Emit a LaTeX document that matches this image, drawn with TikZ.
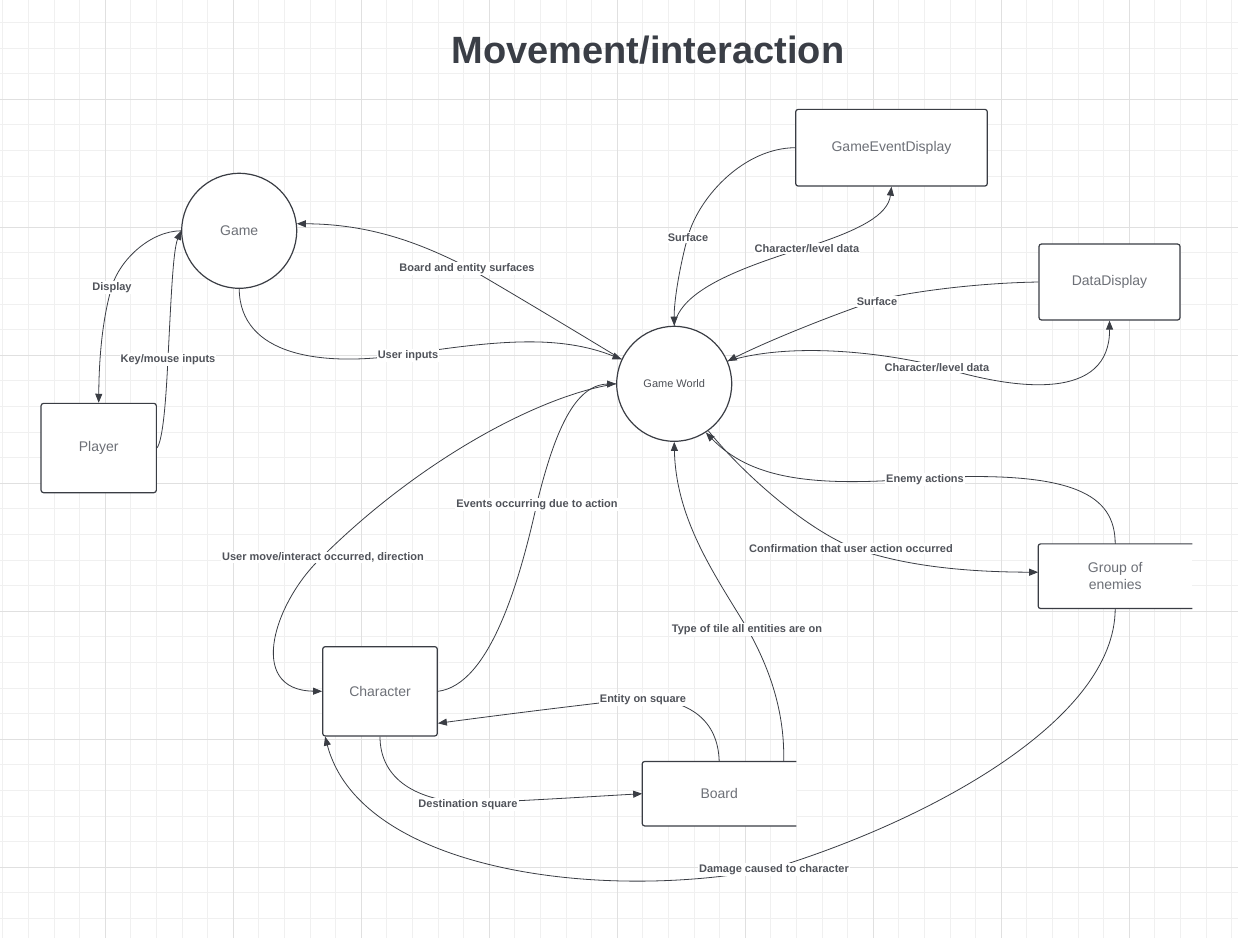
\documentclass[tikz,border=0pt]{standalone}
\usepackage{fontspec}
\setmainfont{Liberation Sans}
\usetikzlibrary{arrows.meta,calc}
\definecolor{linec}{HTML}{3A3D44}
\definecolor{nodetext}{HTML}{6D7077}
\definecolor{gwtext}{HTML}{4E5157}
\definecolor{lbltext}{HTML}{50535A}
\definecolor{titlec}{HTML}{3A3E46}
\definecolor{gridminor}{HTML}{F0F0F0}
\definecolor{gridmajor}{HTML}{E0E0E0}
\tikzset{
  gminor/.style={draw=gridminor, line width=0.9pt},
  gmajor/.style={draw=gridmajor, line width=1pt},
  boxline/.style={draw=linec, line width=1.2pt},
  box/.style={boxline, rounded corners=2.5pt, fill=white, inner sep=0pt, align=center,
    font=\fontsize{14}{17}\selectfont, text=nodetext},
  openbox/.style={fill=white, inner sep=0pt, align=center,
    font=\fontsize{14}{17}\selectfont, text=nodetext},
  circ/.style={circle, boxline, fill=white, minimum size=115pt, inner sep=0pt,
    font=\fontsize{14}{17}\selectfont, text=nodetext},
  lbl/.style={fill=white, inner sep=1pt, yshift=-1.5pt, text=lbltext, font=\bfseries\fontsize{11}{13}\selectfont},
  arr/.style={draw=linec, line width=0.8pt, -{Triangle[length=9pt,width=7pt]}},
}
\begin{document}
\begin{tikzpicture}[x=1pt,y=-1pt]
\useasboundingbox (0,0) rectangle (1238,938);
\fill[white] (0,0) rectangle (1238,938);
% grid
\foreach \i in {0,...,48} \draw[gminor] ({2.9+25.6*\i},0) -- ({2.9+25.6*\i},938);
\foreach \j in {0,...,35} \draw[gminor] (0,{22.5+25.6*\j}) -- (1238,{22.5+25.6*\j});
\foreach \i in {0,...,8} \draw[gmajor] ({105.3+128*\i},0) -- ({105.3+128*\i},938);
\foreach \j in {0,...,6} \draw[gmajor] (0,{99.3+128*\j}) -- (1238,{99.3+128*\j});

% title
\node[font=\bfseries\fontsize{38}{44}\selectfont, text=titlec] (title) at (648,50) {Movement/interaction};

% nodes
\node[circ] (game) at (239.2,230.8) {Game};
\node[circ, font=\fontsize{11}{13}\selectfont, text=gwtext] (gw) at (674.2,383.8) {Game World};
\node[box, minimum width=115.3pt, minimum height=89.3pt] (player) at (98.7,448) {Player};
\node[box, minimum width=191.6pt, minimum height=76.7pt] (ged) at (891.5,147.7) {GameEventDisplay};
\node[box, minimum width=141pt, minimum height=76pt] (dd) at (1109.5,282) {DataDisplay};
\node[box, minimum width=114.6pt, minimum height=89.3pt] (char) at (380,691.3) {Character};
\node[openbox, minimum width=153.7pt, minimum height=64pt] (board) at (719.2,793.7) {Board};
\draw[boxline, rounded corners=2.5pt] (board.north east) -- (board.north west) -- (board.south west) -- (board.south east);
\node[openbox, minimum width=153.7pt, minimum height=64.3pt] (goe) at (1115.2,576.2) {Group of\\enemies};
\draw[boxline, rounded corners=2.5pt] (goe.north east) -- (goe.north west) -- (goe.south west) -- (goe.south east);

% connectors
\draw[arr] (game.west) .. controls (150,231) and (120,260) .. (112,286) node[lbl]{Display}
  .. controls (102,320) and (99,360) .. (player.north);
\draw[arr] (player.east) .. controls (163,440) and (166,400) .. (168,358) node[lbl]{Key/mouse inputs}
  .. controls (171,300) and (173,250) .. (game.west);
\draw[arr] (gw.155) .. controls (570,328) and (510,292) .. (467,267) node[lbl]{Board and entity surfaces}
  .. controls (420,243) and (370,224) .. (game.7);
\draw[arr] (game.south) .. controls (240,355) and (320,368) .. (408,354) node[lbl]{User inputs}
  .. controls (500,340) and (560,335) .. (gw.155);
\draw[arr] (gw.west) .. controls (540,395) and (420,460) .. (323,556) node[lbl]{User move/interact occurred, direction}
  .. controls (275,600) and (245,690) .. (char.west);
\draw[arr] (char.east) .. controls (490,685) and (520,580) .. (537,503) node[lbl]{Events occurring due to action}
  .. controls (555,430) and (575,385) .. (gw.west);
\draw[arr] (ged.west) .. controls (745,148) and (700,195) .. (688,236) node[lbl]{Surface}
  .. controls (680,265) and (674,300) .. (gw.north);
\draw[arr] (gw.north) .. controls (680,290) and (740,268) .. (807,247) node[lbl]{Character/level data}
  .. controls (860,230) and (888,215) .. (ged.south);
\draw[arr] (dd.west) .. controls (975,283) and (910,292) .. (877,300) node[lbl]{Surface}
  .. controls (830,316) and (770,340) .. (gw.23);
\draw[arr] (gw.23) .. controls (790,342) and (880,352) .. (937,366) node[lbl]{Character/level data}
  .. controls (1020,392) and (1110,400) .. (dd.south);
\draw[arr] (goe.north) .. controls (1115,495) and (1075,470) .. (925,478) node[lbl]{Enemy actions}
  .. controls (810,488) and (750,478) .. (gw.-57);
\draw[arr] (gw.-54) .. controls (740,470) and (800,525) .. (851,547) node[lbl]{Confirmation that user action occurred}
  .. controls (900,565) and (960,572) .. ([yshift=4pt]goe.west);
\draw[arr] ([xshift=64.5pt]board.north) .. controls (785,705) and (765,660) .. (747,628) node[lbl]{Type of tile all entities are on}
  .. controls (715,575) and (676,520) .. (gw.south);
\draw[arr] (board.north) .. controls (718,720) and (690,700) .. (643,698) node[lbl]{Entity on square}
  .. controls (580,705) and (500,715) .. ([yshift=-32pt]char.east);
\draw[arr] (char.south) .. controls (380,775) and (410,800) .. (468,803) node[lbl]{Destination square}
  .. controls (540,800) and (600,796) .. (board.west);
\draw[arr] (goe.south) .. controls (1115,720) and (930,820) .. (774,868) node[lbl]{Damage caused to character}
  .. controls (600,903) and (360,870) .. ([xshift=3pt]char.south west);
\end{tikzpicture}
\end{document}
